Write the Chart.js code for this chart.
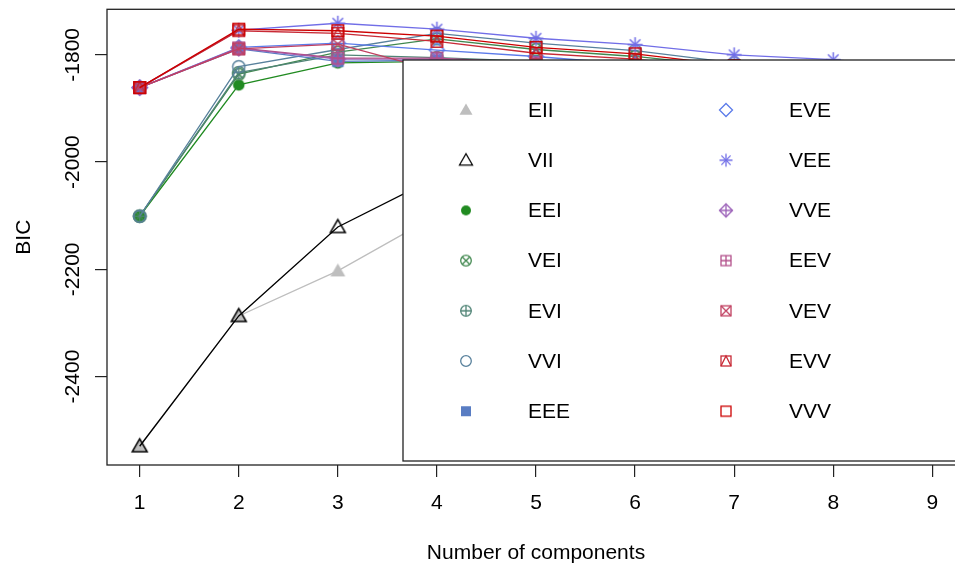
<!DOCTYPE html>
<html>
<head>
<meta charset="utf-8">
<script src="https://cdn.jsdelivr.net/npm/chart.js@4.4.1/dist/chart.umd.min.js"></script>
<style>
  html, body { margin: 0; padding: 0; background: #fff; overflow: hidden; }
  #wrap { width: 955px; height: 569px; overflow: hidden; }
  canvas { display: block; }
</style>
</head>
<body>
<div id="wrap"><canvas id="bic" width="1000" height="569"></canvas></div>
<script>
// number of mixture components
const ks = [1, 2, 3, 4, 5, 6, 7, 8, 9];
const xTicks = [1, 2, 3, 4, 5, 6, 7, 8, 9];
const yTicks = [-2400, -2200, -2000, -1800];

const models = ["EII", "VII", "EEI", "VEI", "EVI", "VVI", "EEE",
                "EVE", "VEE", "VVE", "EEV", "VEV", "EVV", "VVV"];

// BIC per model (hidden parts behind the legend estimated)
const bicEII = [-2530, -2287, -2203, -2099, -2050, -2010, -1985, -1970, -1960];
const bicVII = [-2530, -2287, -2121, -2028, -1990, -1960, -1945, -1935, -1930];
const bicEEI = [-2101, -1856, -1815, -1812, -1822, -1830, -1840, -1850, -1860];
const bicVEI = [-2101, -1836, -1795, -1770, -1790, -1803, -1822, -1835, -1850];
const bicEVI = [-2101, -1833, -1800, -1805, -1812, -1825, -1840, -1855, -1870];
const bicVVI = [-2101, -1822, -1790, -1760, -1778, -1792, -1815, -1830, -1845];
const bicEEE = [-1861, -1789, -1812, -1810, -1816, -1826, -1838, -1850, -1862];
const bicEVE = [-1861, -1786, -1778, -1791, -1803, -1818, -1832, -1845, -1860];
const bicVEE = [-1861, -1754, -1741, -1752, -1769, -1781, -1800, -1809, -1825];
const bicVVE = [-1861, -1788, -1808, -1808, -1818, -1830, -1845, -1860, -1875];
const bicEEV = [-1861, -1787, -1806, -1806, -1815, -1828, -1842, -1858, -1872];
const bicVEV = [-1861, -1789, -1780, -1830, -1840, -1850, -1865, -1880, -1895];
const bicEVV = [-1861, -1755, -1760, -1775, -1797, -1808, -1828, -1845, -1862];
const bicVVV = [-1861, -1752, -1755, -1765, -1786, -1798, -1820, -1840, -1858];

const series = [bicEII, bicVII, bicEEI, bicVEI, bicEVI, bicVVI, bicEEE,
                bicEVE, bicVEE, bicVVE, bicEEV, bicVEV, bicEVV, bicVVV];

const colors = ["#BEBEBE", "#000000", "#218B21", "#41884F", "#508476", "#58819C", "#597DC3",
                "#5B7BEA", "#716EE7", "#9B60B8", "#B2508B", "#C03F60", "#C82A36", "#CC0000"];
const symbols = ["triFill", "tri", "dot", "circX", "circPlus", "circ", "sqFill",
                 "diamond", "aster", "diamondPlus", "sqPlus", "sqX", "sqTri", "sq"];

const FONT = '21px "Liberation Sans", Arial, Helvetica, sans-serif';

// R-like plotting symbols as little canvases, k = size factor
function makeMarker(kind, color, k) {
  const c = document.createElement("canvas");
  const size = Math.ceil(18 * k);
  c.width = size; c.height = size;
  const g = c.getContext("2d");
  g.translate(size / 2, size / 2);
  g.scale(k, k);
  g.strokeStyle = color; g.fillStyle = color; g.lineWidth = 1.3;
  const sq = () => g.strokeRect(-5, -5, 10, 10);
  const circle = () => { g.beginPath(); g.arc(0, 0, 5.3, 0, Math.PI * 2); g.stroke(); };
  const plus = (r) => { g.beginPath(); g.moveTo(-r, 0); g.lineTo(r, 0); g.moveTo(0, -r); g.lineTo(0, r); g.stroke(); };
  const cross = (r) => { g.beginPath(); g.moveTo(-r, -r); g.lineTo(r, r); g.moveTo(-r, r); g.lineTo(r, -r); g.stroke(); };
  const diamond = () => { g.beginPath(); g.moveTo(0, -6.5); g.lineTo(6.5, 0); g.lineTo(0, 6.5); g.lineTo(-6.5, 0); g.closePath(); g.stroke(); };
  const tri = () => { g.beginPath(); g.moveTo(0, -6.5); g.lineTo(6.5, 4.8); g.lineTo(-6.5, 4.8); g.closePath(); };
  switch (kind) {
    case "triFill": tri(); g.fill(); break;
    case "tri": tri(); g.stroke(); break;
    case "dot": g.beginPath(); g.arc(0, 0, 5, 0, Math.PI * 2); g.fill(); break;
    case "circX": circle(); cross(3.8); break;
    case "circPlus": circle(); plus(5.3); break;
    case "circ": circle(); break;
    case "sqFill": g.fillRect(-5, -5, 10, 10); break;
    case "diamond": diamond(); break;
    case "aster": plus(6.5); cross(4.6); break;
    case "diamondPlus": diamond(); plus(6.5); break;
    case "sqPlus": sq(); plus(5); break;
    case "sqX": sq(); cross(5); break;
    case "sqTri": sq(); g.beginPath(); g.moveTo(-5, 5); g.lineTo(0, -5); g.lineTo(5, 5); g.stroke(); break;
    default: sq();
  }
  return c;
}

const pointMarks = symbols.map((s, i) => makeMarker(s, colors[i], 1.15));
const legendMarks = symbols.map((s, i) => makeMarker(s, colors[i], 1.0));

// frame, R style tick labels, axis titles and the boxed legend
const rFrame = {
  id: "rFrame",
  afterDatasetsDraw(chart) {
    const ctx = chart.ctx;
    const a = chart.chartArea;
    const xs = chart.scales.x, ys = chart.scales.y;
    ctx.save();

    // legend box (covers the lines behind it)
    ctx.fillStyle = "#fff";
    ctx.fillRect(403, 60, 560, 401);
    ctx.strokeStyle = "#222";
    ctx.lineWidth = 1.3;
    ctx.strokeRect(403, 60, 560, 401);

    ctx.font = FONT;
    ctx.fillStyle = "#000";
    ctx.textBaseline = "middle";
    ctx.textAlign = "left";
    models.forEach((m, i) => {
      const col = Math.floor(i / 7), row = i % 7;
      const y = 110 + row * 50.2;
      const sx = col === 0 ? 466 : 726;
      const tx = col === 0 ? 528 : 789;
      const img = legendMarks[i];
      ctx.drawImage(img, sx - img.width / 2, y - img.height / 2);
      ctx.fillText(m, tx, y + 1);
    });

    // plot box
    ctx.strokeRect(a.left, a.top, a.right - a.left, a.bottom - a.top);

    // tick labels
    ctx.textAlign = "center";
    xTicks.forEach(v => ctx.fillText(String(v), xs.getPixelForValue(v), 503));
    yTicks.forEach(v => {
      ctx.save();
      ctx.translate(73, ys.getPixelForValue(v));
      ctx.rotate(-Math.PI / 2);
      ctx.fillText(String(v), 0, 0);
      ctx.restore();
    });

    // axis titles
    ctx.fillText("Number of components", (a.left + a.right) / 2, 553);
    ctx.save();
    ctx.translate(24, (a.top + a.bottom) / 2);
    ctx.rotate(-Math.PI / 2);
    ctx.fillText("BIC", 0, 0);
    ctx.restore();

    ctx.restore();
  }
};

const n = models.length;
new Chart(document.getElementById("bic"), {
  type: "line",
  data: {
    datasets: models.map((m, i) => ({
      label: m,
      data: series[i].map((v, j) => ({ x: ks[j], y: v })),
      borderColor: colors[i],
      borderWidth: 1.3,
      pointStyle: pointMarks[i],
      pointRadius: 8,
      fill: false,
      tension: 0,
      order: n - i // VVV drawn last, on top
    }))
  },
  options: {
    responsive: false,
    animation: false,
    devicePixelRatio: 1,
    events: [],
    layout: { padding: { top: 7, right: 35, left: 0, bottom: 0 } },
    plugins: { legend: { display: false }, tooltip: { enabled: false } },
    scales: {
      x: {
        type: "linear",
        min: 0.67,
        max: 9.33,
        afterBuildTicks: s => { s.ticks = xTicks.map(v => ({ value: v })); },
        afterFit: s => { s.height = 104; },
        ticks: { display: false },
        border: { display: false },
        grid: { drawOnChartArea: false, drawTicks: true, tickLength: 12, color: "#222", lineWidth: 1.2 }
      },
      y: {
        type: "linear",
        min: -2565,
        max: -1715,
        afterBuildTicks: s => { s.ticks = yTicks.map(v => ({ value: v })); },
        afterFit: s => { s.width = 107; },
        ticks: { display: false },
        border: { display: false },
        grid: { drawOnChartArea: false, drawTicks: true, tickLength: 12, color: "#222", lineWidth: 1.2 }
      }
    }
  },
  plugins: [rFrame]
});
</script>
</body>
</html>
